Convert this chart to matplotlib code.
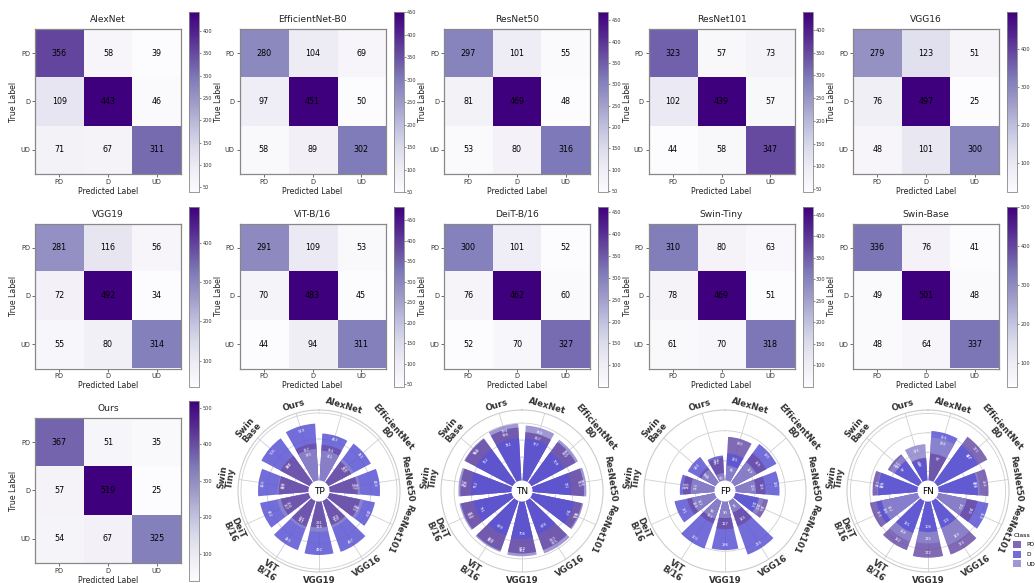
import numpy as np
import matplotlib
matplotlib.use("Agg")
import matplotlib.pyplot as plt
from matplotlib.patches import Patch, Circle

plt.rcParams['font.family'] = ['DejaVu Sans']

# ---------------- data ----------------
models = ["AlexNet", "EfficientNet-B0", "ResNet50", "ResNet101", "VGG16",
          "VGG19", "ViT-B/16", "DeiT-B/16", "Swin-Tiny", "Swin-Base", "Ours"]
polar_names = ["AlexNet", "EfficientNet\nB0", "ResNet50", "ResNet101", "VGG16",
               "VGG19", "ViT\nB/16", "DeiT\nB/16", "Swin\nTiny", "Swin\nBase", "Ours"]
classes = ["PD", "D", "UD"]

cm_alexnet = [[356, 58, 39], [109, 443, 46], [71, 67, 311]]
cm_effnet = [[280, 104, 69], [97, 451, 50], [58, 89, 302]]
cm_resnet50 = [[297, 101, 55], [81, 469, 48], [53, 80, 316]]
cm_resnet101 = [[323, 57, 73], [102, 439, 57], [44, 58, 347]]
cm_vgg16 = [[279, 123, 51], [76, 497, 25], [48, 101, 300]]
cm_vgg19 = [[281, 116, 56], [72, 492, 34], [55, 80, 314]]
cm_vit = [[291, 109, 53], [70, 483, 45], [44, 94, 311]]
cm_deit = [[300, 101, 52], [76, 462, 60], [52, 70, 327]]
cm_swint = [[310, 80, 63], [78, 469, 51], [61, 70, 318]]
cm_swinb = [[336, 76, 41], [49, 501, 48], [48, 64, 337]]
cm_ours = [[367, 51, 35], [57, 519, 25], [54, 67, 325]]

matrices = [cm_alexnet, cm_effnet, cm_resnet50, cm_resnet101, cm_vgg16,
            cm_vgg19, cm_vit, cm_deit, cm_swint, cm_swinb, cm_ours]

class_colors = ["#6a4fa8", "#5a54d4", "#8e86cc"]
metrics = ["TP", "TN", "FP", "FN"]

# ---------------- figure ----------------
W, H = 1035, 583
fig = plt.figure(figsize=(W / 100, H / 100), dpi=100)


def box(left, top, w, h):
    return [left / W, 1 - (top + h) / H, w / W, h / H]


def heatmap(i, col, row):
    cm = np.array(matrices[i])
    x0 = 35 + 204.5 * col
    y0 = 29 + 194.5 * row
    ax = fig.add_axes(box(x0, y0, 146, 145))
    cax = fig.add_axes(box(x0 + 154, y0 - 17, 10, 180))
    im = ax.imshow(cm, cmap="Purples", vmin=cm.min(), vmax=cm.max(), aspect="auto")
    for r in range(3):
        for c in range(3):
            ax.text(c, r, str(cm[r, c]), ha="center", va="center", fontsize=5.8, color="black")
    ax.set_xticks(range(3))
    ax.set_yticks(range(3))
    ax.set_xticklabels(classes, fontsize=4.8)
    ax.set_yticklabels(classes, fontsize=4.8)
    ax.tick_params(length=2, width=0.5, pad=1.5, colors="#333333")
    ax.set_xlabel("Predicted Label", fontsize=5.6, labelpad=1.5, color="#222222")
    ax.set_ylabel("True Label", fontsize=5.6, labelpad=1.5, color="#222222")
    ax.set_title(models[i], fontsize=6.6, pad=5, color="#222222")
    for s in ax.spines.values():
        s.set_color("#888888")
        s.set_linewidth(0.9)
    cb = fig.colorbar(im, cax=cax)
    cb.outline.set_edgecolor("#888888")
    cb.outline.set_linewidth(0.6)
    cax.tick_params(labelsize=3.6, length=1.5, width=0.4, pad=1, colors="#333333")


positions = [(0, 0), (1, 0), (2, 0), (3, 0), (4, 0),
             (0, 1), (1, 1), (2, 1), (3, 1), (4, 1), (0, 2)]
for i, (c, r) in enumerate(positions):
    heatmap(i, c, r)

# ---------------- metrics ----------------
vals = {m: [] for m in metrics}
for cm in matrices:
    cm = np.array(cm)
    tp = np.diag(cm)
    fp = cm.sum(axis=0) - tp
    fn = cm.sum(axis=1) - tp
    tn = cm.sum() - tp - fp - fn
    vals["TP"].append(tp)
    vals["TN"].append(tn)
    vals["FP"].append(fp)
    vals["FN"].append(fn)


def rot_for(phi):
    rot = -phi
    if 120 < phi < 250:
        rot += 180
    return rot


def polar(metric, k):
    data = np.array(vals[metric])
    cx = 319 + 203 * k
    cy = 491
    R = 81
    ax = fig.add_axes(box(cx - R, cy - R, 2 * R, 2 * R), projection="polar")
    ax.set_theta_zero_location("N")
    ax.set_theta_direction(-1)
    n = len(models)
    slot = 2 * np.pi / n
    theta = (np.arange(n) + 0.5) * slot
    rmax = data.max() * 1.2
    for i in range(n):
        order = np.argsort(data[i])[::-1]
        phi = np.degrees(theta[i])
        for j in order:
            v = data[i, j]
            ax.bar(theta[i], v, width=0.8 * slot, color=class_colors[j], alpha=0.85,
                   linewidth=0, zorder=2)
            ax.text(theta[i], v - 0.06 * rmax, str(v), fontsize=2.6, color="white",
                    ha="center", va="center", rotation=rot_for(phi),
                    rotation_mode="anchor", zorder=4)
        lr = 1.1 if "\n" not in polar_names[i] else 1.15
        ax.text(theta[i], rmax * lr, polar_names[i], fontsize=6.2, fontweight="bold",
                color="#333333", ha="center", va="center", rotation=rot_for(phi),
                rotation_mode="anchor", linespacing=0.95, clip_on=False)
    ax.set_ylim(0, rmax)
    ax.set_xticks(theta)
    ax.set_xticklabels([])
    ax.set_yticklabels([])
    ax.set_axisbelow(True)
    ax.grid(color="#d0d0d0", linewidth=0.6)
    ax.spines["polar"].set_color("#cccccc")
    ax.spines["polar"].set_linewidth(0.8)
    ax.add_patch(Circle((0.5, 0.5), 0.065, transform=ax.transAxes, facecolor="white",
                        edgecolor="none", zorder=5))
    ax.text(0.5, 0.5, metric, transform=ax.transAxes, ha="center", va="center",
            fontsize=6.5, color="black", zorder=6)


for k, m in enumerate(metrics):
    polar(m, k)

handles = [Patch(facecolor=c, alpha=0.85, edgecolor="none") for c in class_colors]
fig.legend(handles, classes, title="Class", loc="upper left",
           bbox_to_anchor=(1008 / W, 1 - 528 / H), fontsize=4.2, title_fontsize=4.6,
           frameon=False, handlelength=1.4, handleheight=1.4, labelspacing=0.5,
           alignment="left")

fig.savefig("out.png", dpi=100)
